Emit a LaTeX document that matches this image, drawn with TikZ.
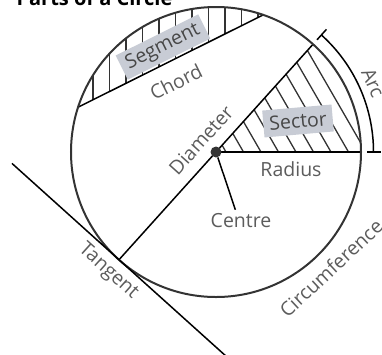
\documentclass[tikz,border=0pt]{standalone}
\usepackage{fontspec}
\setmainfont{Open Sans}
\usepackage{xcolor}
\usepackage{tikz}
\usetikzlibrary{positioning,calc}
\definecolor{ink}   {HTML}{333333}
\definecolor{stroke}{HTML}{5E5E5E}
\definecolor{muted} {HTML}{5C5C5C}
\definecolor{tag}   {HTML}{C8CCD5}

\begin{document}
\begin{tikzpicture}[x=1pt,y=1pt,font=\fontsize{19.5}{22}\selectfont,
    part/.style={color=muted,inner sep=2pt},
    tagbox/.style={fill=tag,text=ink!90,inner xsep=6pt,inner ysep=3pt,minimum height=27pt},
    hatch/.style={draw=ink,line width=1.3pt}]
  \useasboundingbox (-216,-202) rectangle (166,152);
  \def\R{145}

  % segment and sector hatching
  \begin{scope}
    \clip (162:\R) arc[start angle=162,end angle=71,radius=\R] -- cycle;
    \foreach \k in {0,...,10}{\draw[hatch] ({-123+16.5*\k},0) -- ++(0,160);}
  \end{scope}
  \begin{scope}
    \clip (0,0) -- (0:\R) arc[start angle=0,end angle=48,radius=\R] -- cycle;
    \foreach \k in {0,...,10}{\draw[hatch] ({10+17.5*\k},0) -- ++(120:200);}
  \end{scope}

  % lines through the circle
  \draw[stroke,line width=1.5pt] (162:\R) -- (71:\R);
  \draw[stroke,line width=1.5pt] (228:\R) -- (48:\R);
  \draw[stroke,line width=1.5pt] (0,0) -- (0:\R);
  \draw[ink,line width=2pt] (0,0) circle[radius=\R];

  % tangent
  \coordinate (touch) at (228:\R);
  \draw[stroke,line width=1.5pt] ($(touch)+(138:144)$) -- ($(touch)+(-42:145)$);

  % arc bracket
  \draw[stroke,line width=1.5pt] (48:157.5) arc[start angle=48,end angle=0,radius=157.5];
  \draw[stroke,line width=1.5pt] (48:151) -- (48:165);
  \draw[stroke,line width=1.5pt] (0:151) -- (0:165);

  \node[circle,fill=ink,inner sep=0pt,minimum size=11pt] (ctr) at (0,0) {};

  \node[anchor=base west,font=\bfseries\fontsize{20}{24}\selectfont] (title)
    at (-203,147) {Parts of a Circle};
  \node[tagbox,rotate=26.5] (segment) at (-53,105) {Segment};
  \node[part,rotate=26.5] (chord) at (-40,70) {Chord};
  \node[part,rotate=48] (diameter) at (-15,12) {Diameter};
  \node[tagbox,rotate=5] (sector) at (82,31) {Sector};
  \node[part] (radius) at (75,-17) {Radius};
  \node[part] (centre) at (25,-69) {Centre};
  \node[part,rotate=-42] (tangent) at ($(touch)+(228:16)$) {Tangent};
  \node[part,rotate=-66] (arc) at (157,69) {Arc};
  \node[part,rotate=43] (circum) at (115,-116) {Circumference};

  \draw[stroke,line width=1.5pt,shorten >=2pt] (ctr) -- ($(centre.north)+(-5,0)$);
\end{tikzpicture}
\end{document}
